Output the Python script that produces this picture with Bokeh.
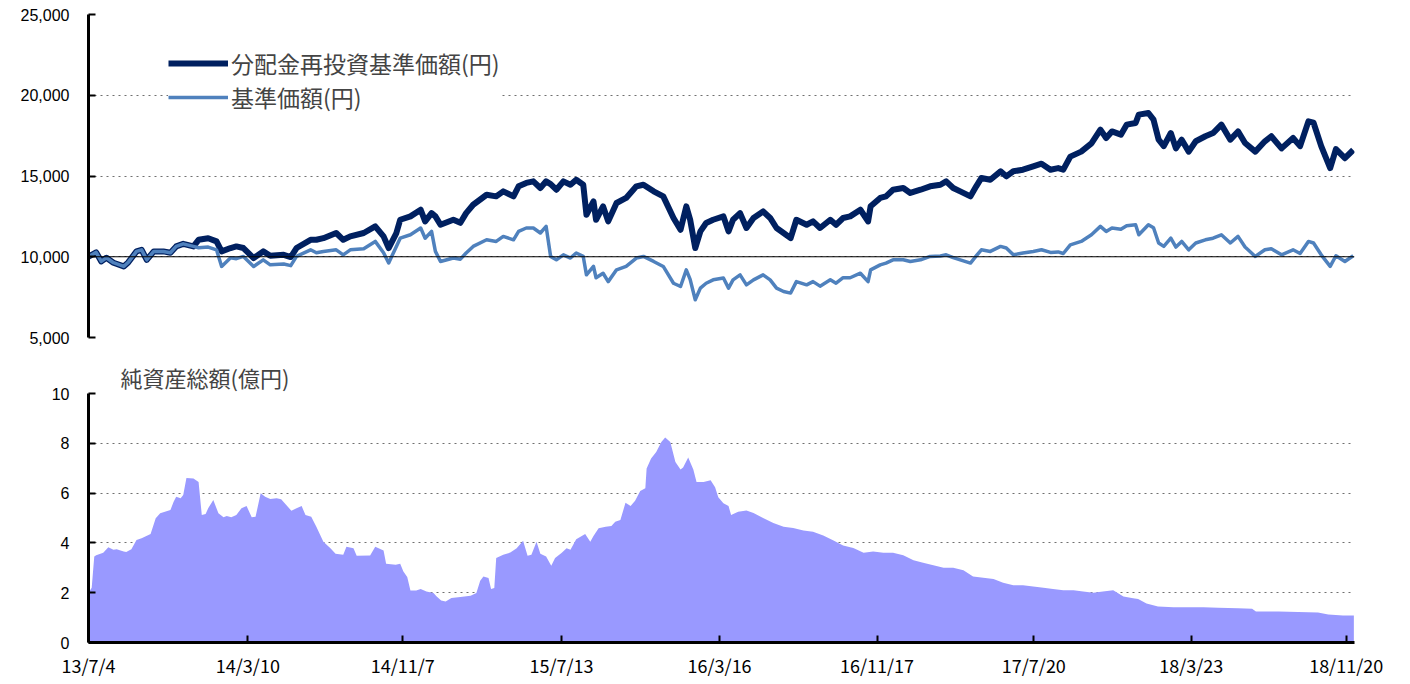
from datetime import date
from bokeh.plotting import figure
from bokeh.models import Range1d, FixedTicker, Span, Legend, LegendItem, NumeralTickFormatter
from bokeh.layouts import column
from bokeh.embed import file_html
from bokeh.resources import INLINE

start = date(2013, 7, 4)
tick_labels = ["13/7/4", "14/3/10", "14/11/7", "15/7/13", "16/3/16",
               "16/11/17", "17/7/20", "18/3/23", "18/11/20"]

# days since 2013/7/4
nav_days = [0, 12, 20, 28, 39, 55, 62, 75, 83, 91, 102, 117, 128, 137, 148, 164, 172, 187, 200, 208,
            222, 231, 242, 258, 273, 284, 305, 316, 325, 347, 356, 367, 387, 398, 409, 430, 448, 461, 469, 481,
            487, 503, 519, 526, 536, 542, 550, 570, 581, 590, 601, 622, 637, 648, 664, 672, 684, 695, 706, 715,
            722, 731, 742, 753, 762, 773, 778, 789, 793, 804, 812, 825, 840, 856, 867, 883, 898, 914, 925, 934,
            940, 948, 956, 965, 976, 992, 1000, 1007, 1018, 1028, 1039, 1054, 1065, 1075, 1086, 1097, 1106, 1122, 1132, 1143,
            1159, 1168, 1179, 1190, 1206, 1218, 1222, 1237, 1246, 1257, 1273, 1284, 1300, 1315, 1331, 1340, 1351, 1362, 1378, 1387,
            1395, 1409, 1425, 1434, 1445, 1460, 1476, 1489, 1503, 1515, 1523, 1534, 1551, 1567, 1581, 1590, 1599, 1613, 1622, 1636,
            1641, 1656, 1664, 1672, 1680, 1691, 1699, 1708, 1719, 1730, 1745, 1757, 1770, 1784, 1796, 1807, 1823, 1838, 1848, 1864,
            1882, 1893, 1906, 1914, 1926, 1940, 1949, 1963, 1976]

nav_reinvested = [10000, 10270, 9710, 9940, 9630, 9400, 9650, 10330, 10430, 9810, 10330, 10330, 10250, 10640, 10800, 10640, 11050, 11150, 10950, 10330,
                  10540, 10640, 10540, 9920, 10330, 10060, 10120, 9980, 10540, 11050, 11050, 11150, 11470, 11050, 11260, 11470, 11880, 11260, 10540, 11470,
                  12290, 12500, 12910, 12190, 12700, 12500, 11980, 12290, 12100, 12700, 13220, 13840, 13740, 14050, 13740, 14360, 14570, 14670, 14260, 14670,
                  14500, 14150, 14670, 14460, 14770, 14460, 12600, 13430, 12290, 13120, 12190, 13330, 13640, 14360, 14460, 14050, 13740, 12400, 11670, 13120,
                  12300, 10540, 11570, 12090, 12290, 12500, 11570, 12290, 12700, 11780, 12400, 12810, 12400, 11780, 11470, 11150, 12290, 11980, 12190, 11780,
                  12290, 11980, 12400, 12500, 12910, 12190, 13120, 13640, 13740, 14150, 14260, 13950, 14150, 14360, 14460, 14670, 14260, 14050, 13740, 14360,
                  14880, 14770, 15290, 14980, 15290, 15390, 15600, 15760, 15390, 15490, 15390, 16200, 16510, 17020, 17870, 17350, 17760, 17560, 18180, 18280,
                  18800, 18900, 18490, 17250, 16850, 17660, 16710, 17250, 16510, 17150, 17460, 17660, 18180, 17250, 17760, 17040, 16510, 17150, 17460, 16710,
                  17350, 16850, 18380, 18300, 16850, 15490, 16660, 16100, 16610]

nav = [10000, 10270, 9710, 9940, 9630, 9400, 9650, 10330, 10430, 9810, 10330, 10330, 10250, 10640, 10800, 10640, 10560, 10600, 10430, 9400,
       9940, 9880, 10020, 9400, 9810, 9500, 9550, 9450, 10020, 10430, 10250, 10330, 10430, 10120, 10430, 10500, 10950, 10250, 9610, 10640,
       11150, 11360, 11780, 11150, 11570, 10330, 9710, 9920, 9850, 10230, 10640, 11050, 10950, 11260, 11050, 11570, 11780, 11780, 11470, 11880,
       10020, 9810, 10120, 9920, 10230, 10020, 8880, 9400, 8700, 8980, 8460, 9190, 9400, 9920, 10020, 9710, 9400, 8360, 8160, 9190,
       8600, 7340, 8060, 8360, 8570, 8680, 8060, 8570, 8880, 8260, 8570, 8880, 8570, 8060, 7850, 7750, 8460, 8260, 8460, 8180,
       8570, 8360, 8700, 8700, 8980, 8460, 9190, 9500, 9610, 9810, 9810, 9710, 9810, 10020, 10050, 10120, 9950, 9810, 9610, 10050,
       10430, 10330, 10640, 10540, 10120, 10230, 10330, 10430, 10270, 10300, 10200, 10740, 10950, 11360, 11880, 11570, 11780, 11700, 11920, 11980,
       11360, 11980, 11800, 10850, 10640, 11150, 10600, 10950, 10430, 10850, 11050, 11150, 11360, 10850, 11260, 10600, 10020, 10430, 10500, 10120,
       10430, 10200, 10950, 10850, 10120, 9400, 10060, 9710, 10060]

aum_days = [0, 5, 9, 12, 23, 31, 39, 44, 55, 59, 67, 75, 83, 97, 105, 112, 128, 133, 137, 144,
            148, 153, 164, 172, 177, 183, 187, 195, 203, 211, 216, 223, 231, 239, 247, 255, 261, 269, 276, 284,
            294, 301, 309, 317, 325, 333, 339, 348, 356, 367, 378, 386, 398, 403, 414, 419, 440, 448, 461, 465,
            480, 487, 492, 498, 503, 512, 519, 528, 539, 544, 551, 558, 567, 581, 597, 606, 612, 617, 625, 629,
            634, 637, 648, 659, 669, 679, 686, 692, 700, 706, 715, 723, 729, 739, 747, 753, 762, 776, 784, 789,
            797, 808, 817, 823, 831, 839, 847, 854, 862, 870, 872, 879, 887, 895, 901, 909, 917, 925, 929, 937,
            945, 950, 961, 972, 979, 984, 992, 1000, 1004, 1015, 1028, 1039, 1054, 1070, 1086, 1101, 1117, 1132, 1148, 1164,
            1179, 1195, 1211, 1226, 1242, 1257, 1273, 1289, 1304, 1320, 1336, 1351, 1367, 1382, 1398, 1414, 1429, 1445, 1460, 1476,
            1492, 1507, 1523, 1539, 1554, 1570, 1585, 1601, 1617, 1632, 1640, 1653, 1671, 1695, 1718, 1742, 1765, 1796, 1818, 1824,
            1859, 1890, 1921, 1937, 1960, 1977]

aum = [2.0, 2.2, 3.45, 3.5, 3.6, 3.83, 3.72, 3.75, 3.65, 3.63, 3.75, 4.12, 4.19, 4.36, 4.99, 5.19, 5.32, 5.65, 5.85, 5.79,
       5.92, 6.61, 6.59, 6.45, 5.12, 5.16, 5.39, 5.72, 5.19, 5.03, 5.08, 5.03, 5.12, 5.39, 5.48, 5.03, 5.05, 5.99, 5.85, 5.76,
       5.79, 5.75, 5.52, 5.29, 5.39, 5.48, 5.12, 5.05, 4.65, 4.05, 3.79, 3.56, 3.52, 3.85, 3.79, 3.48, 3.49, 3.85, 3.69, 3.16,
       3.12, 3.16, 2.85, 2.63, 2.09, 2.09, 2.15, 2.05, 1.99, 1.85, 1.69, 1.65, 1.79, 1.83, 1.88, 1.99, 2.48, 2.65, 2.59, 2.15,
       2.19, 3.39, 3.52, 3.61, 3.79, 4.09, 3.48, 3.52, 4.05, 3.56, 3.45, 3.08, 3.39, 3.59, 3.79, 3.72, 4.15, 4.36, 4.05, 4.28,
       4.59, 4.65, 4.68, 4.85, 4.92, 5.61, 5.48, 5.69, 6.08, 6.19, 6.99, 7.39, 7.65, 8.05, 8.23, 8.05, 7.25, 6.95, 7.03, 7.43,
       6.95, 6.45, 6.45, 6.52, 6.23, 5.83, 5.59, 5.48, 5.12, 5.25, 5.3, 5.2, 5.0, 4.8, 4.65, 4.6, 4.5, 4.45, 4.3, 4.1,
       3.9, 3.8, 3.6, 3.65, 3.6, 3.6, 3.5, 3.3, 3.2, 3.1, 3.0, 3.0, 2.9, 2.65, 2.6, 2.55, 2.4, 2.3, 2.3, 2.25,
       2.2, 2.15, 2.1, 2.1, 2.05, 2.0, 2.05, 2.1, 1.85, 1.78, 1.75, 1.57, 1.45, 1.42, 1.42, 1.42, 1.4, 1.38, 1.36, 1.25,
       1.24, 1.22, 1.2, 1.12, 1.08, 1.08]

nav_ticks = [5000, 10000, 15000, 20000, 25000]
aum_ticks = [0, 2, 4, 6, 8, 10]


def parse(s):
    y, m, d = map(int, s.split("/"))
    return date(2000 + y, m, d)


tick_pos = [(parse(s) - start).days for s in tick_labels]

JP = "Noto Sans CJK JP"
NUM = "Liberation Sans"
DARK = "#002060"
LIGHT = "#4F81BD"
AREA = "#9999FF"

xr = Range1d(0, 1978)

p1 = figure(frame_width=1266, frame_height=323, x_range=xr, y_range=Range1d(5000, 25000),
            x_axis_type=None, output_backend="svg", toolbar_location=None,
            min_border_left=88, min_border_right=46, min_border_top=14, min_border_bottom=10)
p1.outline_line_color = None
p1.yaxis.ticker = FixedTicker(ticks=nav_ticks)
p1.yaxis.formatter = NumeralTickFormatter(format="0,0")
p1.yaxis.axis_line_width = 3
p1.yaxis.axis_line_color = "black"
p1.yaxis.major_tick_in = 7
p1.yaxis.major_tick_out = 0
p1.yaxis.major_tick_line_width = 2
p1.yaxis.minor_tick_line_color = None
p1.yaxis.major_label_text_font = NUM
p1.yaxis.major_label_text_font_size = "16px"
p1.yaxis.major_label_text_color = "black"
p1.yaxis.major_label_standoff = 19
p1.ygrid.grid_line_dash = "dotted"
p1.ygrid.grid_line_color = "#707070"
p1.ygrid.grid_line_width = 1
p1.add_layout(Span(location=10000, dimension="width", line_color="black", line_width=1.2))

r1 = p1.line(nav_days, nav_reinvested, line_color=DARK, line_width=6, line_join="round")
r2 = p1.line(nav_days, nav, line_color=LIGHT, line_width=3.5, line_join="round")

legend = Legend(items=[LegendItem(label="分配金再投資基準価額(円)", renderers=[r1]),
                       LegendItem(label="基準価額(円)", renderers=[r2])],
                location=(80, 223), label_text_font=JP, label_text_font_size="23px",
                glyph_width=60, glyph_height=30, label_height=30, spacing=0, padding=20,
                label_standoff=3, border_line_color=None, background_fill_color="white",
                background_fill_alpha=1)
p1.add_layout(legend)

p2 = figure(frame_width=1266, frame_height=249, x_range=xr, y_range=Range1d(0, 10),
            output_backend="svg", toolbar_location=None,
            min_border_left=88, min_border_right=46, min_border_top=46, min_border_bottom=34)
p2.outline_line_color = None
p2.varea(x=aum_days, y1=0, y2=aum, fill_color=AREA)
p2.yaxis.ticker = FixedTicker(ticks=aum_ticks)
p2.xaxis.ticker = FixedTicker(ticks=tick_pos)
p2.xaxis.major_label_overrides = {pos: lab for pos, lab in zip(tick_pos, tick_labels)}
for ax in (p2.xaxis, p2.yaxis):
    ax.axis_line_width = 3
    ax.axis_line_color = "black"
    ax.major_tick_in = 7
    ax.major_tick_out = 0
    ax.major_tick_line_width = 2
    ax.minor_tick_line_color = None
    ax.major_label_text_color = "black"
p2.yaxis.major_label_text_font = NUM
p2.yaxis.major_label_text_font_size = "16px"
p2.yaxis.major_label_standoff = 19
p2.xaxis.major_label_text_font = JP
p2.xaxis.major_label_text_font_size = "18px"
p2.xaxis.major_label_standoff = 9
p2.xgrid.visible = False
p2.ygrid.grid_line_dash = "dotted"
p2.ygrid.grid_line_color = "#707070"
p2.title.text = "純資産総額(億円)"
p2.title.text_font = JP
p2.title.text_font_size = "22px"
p2.title.text_font_style = "normal"
p2.title.offset = 32
p2.title.standoff = 2

layout = column(p1, p2, spacing=0)
open("out.html", "w").write(file_html(layout, INLINE))
